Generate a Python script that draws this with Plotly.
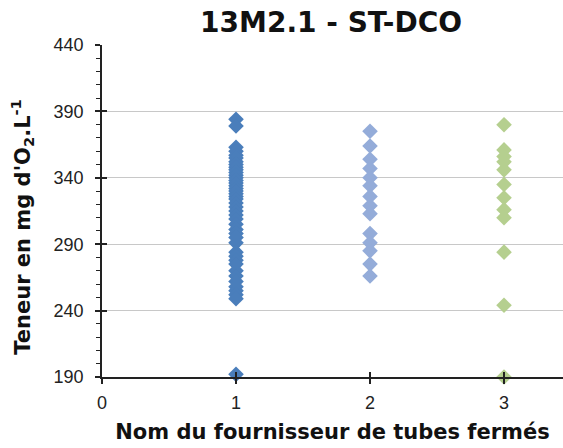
import plotly.graph_objects as go

title_text = "13M2.1 - ST-DCO"
x_title = "Nom du fournisseur de tubes fermés"
y_title = "Teneur en mg d'O<sub>2</sub>.L<sup>-1</sup>"

suppliers = [1, 2, 3]
s1 = [384, 379, 363, 360, 357, 355, 352, 350, 348, 346, 344, 342, 340, 338, 336, 334,
      332, 330, 328, 326, 324, 321, 318, 315, 312, 309, 305, 301, 298, 295, 291, 284,
      281, 278, 275, 270, 266, 262, 258, 255, 252, 249, 192]
s2 = [375, 364, 354, 347, 340, 334, 326, 319, 313, 298, 291, 285, 275, 266]
s3 = [380, 361, 356, 352, 346, 335, 325, 316, 310, 284, 244, 190]
series = [s1, s2, s3]
colors = ["#4a7ebb", "#94acd9", "#b5cf8f"]

y_ticks = [190, 240, 290, 340, 390, 440]
x_ticks = [0, 1, 2, 3]

fig = go.Figure()
for sup, vals, col in zip(suppliers, series, colors):
    fig.add_trace(go.Scatter(
        x=[sup] * len(vals), y=vals, mode="markers",
        marker=dict(symbol="diamond", size=12, color=col, line=dict(width=0)),
        cliponaxis=False, showlegend=False))

# dummy trace for overlay axes (inside part of crossing ticks)
fig.add_trace(go.Scatter(x=[None], y=[None], xaxis="x2", yaxis="y2",
                         showlegend=False, hoverinfo="skip"))

tick_font = dict(family="Liberation Sans, Arial, sans-serif", size=18, color="#222")
bold_font = "DejaVu Sans, Verdana, sans-serif"

fig.update_layout(
    width=563, height=448,
    margin=dict(l=102, r=0, t=45, b=71),
    paper_bgcolor="white", plot_bgcolor="white",
    title=dict(text="<b>%s</b>" % title_text, x=0.588, xanchor="center",
               y=0.95, yanchor="middle",
               font=dict(family=bold_font, size=28, color="#111")),
    xaxis=dict(range=[0, 3.44], tickvals=x_ticks, showgrid=False, zeroline=False,
               showline=True, linecolor="#222", linewidth=1.5,
               ticks="outside", ticklen=5, tickcolor="#222", tickwidth=1.5,
               tickfont=tick_font, ticklabelstandoff=4,
               title=dict(text="<b>%s</b>" % x_title, standoff=12,
                          font=dict(family=bold_font, size=21, color="#111"))),
    yaxis=dict(range=[190, 440], tickvals=y_ticks, showgrid=True,
               gridcolor="#c8c8c8", gridwidth=1.2, zeroline=False,
               showline=True, linecolor="#222", linewidth=1.5,
               ticks="outside", ticklen=5, tickcolor="#222", tickwidth=1.5,
               minor=dict(dtick=10, ticks="outside", ticklen=4, tickcolor="#222",
                          tickwidth=1, showgrid=False),
               tickfont=tick_font, ticklabelstandoff=8),
    xaxis2=dict(range=[0, 3.44], tickvals=x_ticks, overlaying="x", anchor="y2",
                showgrid=False, zeroline=False, showline=False,
                ticks="inside", ticklen=5, tickcolor="#222", tickwidth=1.5,
                showticklabels=False),
    yaxis2=dict(range=[190, 440], tickvals=y_ticks, overlaying="y", anchor="x2",
                showgrid=False, zeroline=False, showline=False,
                ticks="inside", ticklen=5, tickcolor="#222", tickwidth=1.5,
                showticklabels=False),
    annotations=[dict(text="<b>%s</b>" % y_title, xref="paper", yref="paper",
                      x=-0.174, y=0.452, xanchor="center", yanchor="middle",
                      textangle=-90, showarrow=False,
                      font=dict(family=bold_font, size=21, color="#111"))],
)

fig.write_html("out.html")
